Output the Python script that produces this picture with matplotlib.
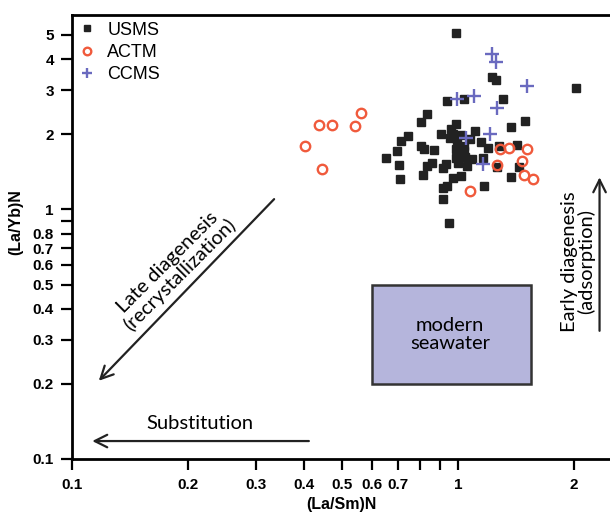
import numpy as np
import matplotlib.pyplot as plt
from matplotlib.patches import Rectangle
from matplotlib.ticker import FixedLocator, NullFormatter

# (La/Sm)N , (La/Yb)N
usms_x = [0.99, 1.23, 1.254, 2.03, 0.937, 1.035, 1.31, 0.831, 0.802, 1.494,
          0.988, 0.959, 1.37, 1.11, 0.745, 0.712, 0.904, 0.971, 0.953, 0.994,
          1.018, 1.076, 1.147, 0.805, 0.696, 0.818, 0.867, 0.988, 1.038, 1.038,
          1.196, 1.277, 1.424, 0.65, 0.705, 0.856, 0.831, 0.931, 0.913, 0.988,
          1.00, 1.043, 1.055, 1.09, 1.163, 1.262, 1.439, 0.709, 0.813, 0.969,
          1.02, 1.377, 0.938, 0.916, 1.168, 0.916, 0.946]
usms_y = [5.1, 3.38, 3.30, 3.07, 2.71, 2.77, 2.76, 2.41, 2.23, 2.26,
          2.19, 2.10, 2.14, 2.06, 1.96, 1.88, 2.00, 2.00, 1.94, 1.89,
          1.98, 1.92, 1.86, 1.80, 1.71, 1.74, 1.73, 1.75, 1.79, 1.71,
          1.76, 1.80, 1.82, 1.61, 1.51, 1.53, 1.49, 1.52, 1.47, 1.61,
          1.53, 1.62, 1.49, 1.59, 1.60, 1.48, 1.48, 1.33, 1.38, 1.34,
          1.36, 1.35, 1.24, 1.22, 1.245, 1.10, 0.884]

actm_x = [1.285, 1.358, 1.51, 1.47, 1.262, 1.485, 1.564, 1.076,
          0.402, 0.437, 0.472, 0.444, 0.543, 0.562]
actm_y = [1.75, 1.77, 1.75, 1.57, 1.50, 1.37, 1.32, 1.18,
          1.80, 2.18, 2.17, 1.45, 2.15, 2.43]

ccms_x = [1.223, 1.254, 1.507, 0.994, 1.102, 1.26, 1.051, 1.215, 1.163]
ccms_y = [4.19, 3.88, 3.11, 2.77, 2.84, 2.55, 1.94, 2.00, 1.52]

x_major = [0.1, 0.2, 0.3, 0.4, 0.5, 0.6, 0.7, 1, 2]
x_minor = [0.8, 0.9]
y_major = [0.1, 0.2, 0.3, 0.4, 0.5, 0.6, 0.7, 0.8, 1, 2, 3, 4, 5]
y_minor = [0.9]

# modern seawater field
sw_x = (0.6, 1.55)
sw_y = (0.2, 0.5)

plt.rcParams['font.family'] = ['Liberation Sans', 'DejaVu Sans']

fig = plt.figure(figsize=(6.1, 5.16), dpi=100)
ax = fig.add_axes([0.118, 0.1105, 0.882, 0.86])
ax.set_xscale('log')
ax.set_yscale('log')
ax.set_xlim(0.1, 2.48)
ax.set_ylim(0.1, 6.0)

ax.plot(usms_x, usms_y, 's', color='#222222', ms=5.2, mec='#222222', ls='none', label='USMS', zorder=3)
ax.plot(actm_x, actm_y, 'o', mfc='none', mec='#f05a3c', mew=1.7, ms=6.8, ls='none', label='ACTM', zorder=3)
ax.plot(ccms_x, ccms_y, '+', color='#6a6abf', mew=1.7, ms=9.5, ls='none', label='CCMS', zorder=4)

ax.add_patch(Rectangle((sw_x[0], sw_y[0]), sw_x[1] - sw_x[0], sw_y[1] - sw_y[0],
                       facecolor='#b5b5dc', edgecolor='#333333', lw=1.8, zorder=2))

afont = ['Lato', 'DejaVu Sans']
afs = 14.5
ax.text(0.955, 0.315, 'modern\nseawater', ha='center', va='center', fontsize=afs,
        family=afont, linespacing=1.05, zorder=3)

arrow = dict(arrowstyle='->,head_length=0.9,head_width=0.45', lw=1.6, color='#222222')
ax.annotate('', xy=(0.116, 0.202), xytext=(0.338, 1.12), arrowprops=arrow)
ax.text(0.184, 0.58, 'Late diagenesis\n(recrystallization)', rotation=45, ha='center',
        va='center', fontsize=afs, family=afont, rotation_mode='anchor', linespacing=1.0)

ax.annotate('', xy=(0.111, 0.118), xytext=(0.418, 0.118), arrowprops=arrow)
ax.text(0.215, 0.139, 'Substitution', ha='center', va='center', fontsize=afs, family=afont)

ax.annotate('', xy=(2.33, 1.38), xytext=(2.33, 0.318), arrowprops=arrow)
ax.text(2.05, 0.62, 'Early diagenesis\n(adsorption)', rotation=90, ha='center', va='center',
        fontsize=afs, family=afont, linespacing=1.0)

ax.xaxis.set_major_locator(FixedLocator(x_major))
ax.xaxis.set_minor_locator(FixedLocator(x_minor))
ax.yaxis.set_major_locator(FixedLocator(y_major))
ax.yaxis.set_minor_locator(FixedLocator(y_minor))
ax.set_xticklabels([f'{v:g}' for v in x_major])
ax.set_yticklabels([f'{v:g}' for v in y_major])
ax.xaxis.set_minor_formatter(NullFormatter())
ax.yaxis.set_minor_formatter(NullFormatter())
ax.tick_params(which='both', direction='out', length=8, width=1.6, labelsize=11)
ax.tick_params(axis='x', which='both', pad=6)
ax.tick_params(axis='y', which='both', pad=5)
for lab in ax.get_xticklabels() + ax.get_yticklabels():
    lab.set_fontweight('bold')

for s in ['left', 'bottom', 'top']:
    ax.spines[s].set_linewidth(2)
ax.spines['right'].set_visible(False)

ax.set_xlabel('(La/Sm)N', fontsize=11.5, fontweight='bold', labelpad=3)
ax.set_ylabel('(La/Yb)N', fontsize=11.5, fontweight='bold')
ax.yaxis.set_label_coords(-0.09, 0.535)

ax.legend(loc='upper left', frameon=False, fontsize=13, handletextpad=0.6,
          borderaxespad=0.15, labelspacing=0.3, handlelength=1.0, borderpad=0.2,
          markerscale=0.8)

fig.savefig('out.png', dpi=100)
